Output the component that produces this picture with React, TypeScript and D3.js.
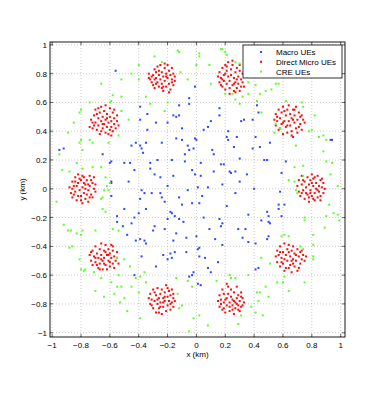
import React from "react";
import * as d3 from "d3";

// positions of the UEs, in units of 0.01 km (10 m)
const macroUEs: [number, number][] = [
  [-56, 82], [-1, 71], [-5, 63], [-5, 59], [-39, 57], [-39, 48], [-12, 58], [-16, 51], [-14, 50], [-12, 51],
  [-20, 46], [-34, 52], [-28, 46], [-34, 41], [-35, 32], [-42, 32], [-39, 30], [-38, 28], [-37, 25], [-45, 30],
  [-14, 35], [-10, 34], [-24, 32], [-6, 30], [-5, 27], [-2, 28], [0, 34], [-1, 35], [5, 41], [8, 43],
  [10, 47], [11, 27], [16, 51], [22, 40], [21, 36], [22, 34], [16, 56], [28, 36], [31, 47], [33, 48],
  [26, 29], [30, 21], [39, 28], [43, 53], [42, 58], [39, 48], [41, 36], [44, 29], [47, 20], [49, 20],
  [51, 32], [62, 19], [59, 11], [58, -2], [93, 34], [94, 34], [-92, 28], [-95, 27], [-65, 24], [-60, 18],
  [-59, 19], [-50, 18], [-46, 18], [-43, 13], [-32, 18], [-32, 14], [-29, 10], [-27, 20], [-16, 9], [-20, 2],
  [-17, 20], [-8, 19], [-3, 13], [-1, 10], [3, 18], [3, 9], [8, 1], [12, 12], [17, 17], [19, 17],
  [23, 12], [24, 11], [18, 3], [30, 5], [27, -3], [-59, 5], [-59, 4], [-59, -5], [-38, -1], [-36, -3],
  [-31, -3], [-25, -3], [-24, -6], [-22, -9], [-39, -7], [-6, -1], [-3, -10], [1, 1], [2, -10], [4, -5],
  [-10, -11], [-17, -17], [-15, -19], [-12, -21], [-9, -23], [-20, -21], [-18, -16], [-35, -14], [-40, -17], [-43, -20],
  [-45, -24], [-55, -19], [-55, -23], [-50, -14], [-51, -26], [-48, -32], [-42, -36], [-39, -35], [-36, -36], [-35, -38],
  [-38, -47], [-29, -26], [-30, -29], [-14, -31], [-16, -36], [-7, -34], [0, -33], [2, -41], [1, -42], [5, -20],
  [13, -35], [16, -21], [18, -24], [17, -26], [18, -39], [-23, -46], [-18, -45], [-15, -44], [-20, -49], [-17, -48],
  [-7, -44], [-28, -54], [2, -47], [6, -48], [8, -55], [10, -58], [15, -51], [-3, -60], [-5, -61], [-2, -58],
  [1, -66], [3, -67], [-43, -60], [29, -28], [32, -34], [34, -28], [36, -37], [41, -38], [49, -35], [50, -33],
  [51, -24], [49, -16], [50, -19], [50, -23], [57, -11], [61, -11], [57, -14], [59, -19], [41, -56], [43, -55],
  [-8, 24], [12, 24], [-22, -28], [9, -28], [35, 10], [40, 0], [-47, 5], [-10, 42], [27, 12], [45, -22],
  [-25, 8], [21, -12], [-12, -6], [36, -18],
];

const directMicroUEs: [number, number][] = [
  // (-0.24, 0.77)
  [-33, 80], [-32, 76], [-31, 74], [-30, 79], [-29, 83], [-29, 70], [-28, 77], [-27, 74], [-27, 85], [-26, 79],
  [-26, 71], [-25, 76], [-24, 81], [-24, 73], [-23, 78], [-23, 68], [-22, 84], [-22, 75], [-21, 80], [-21, 71],
  [-20, 77], [-20, 86], [-19, 82], [-19, 73], [-18, 79], [-18, 69], [-17, 76], [-17, 84], [-16, 80], [-16, 72],
  [-15, 78], [-28, 73], [-31, 78], [-25, 86], [-19, 67], [-23, 71], [-30, 72], [-17, 74], [-21, 78], [-26, 82],
  [-28, 81], [-33, 77], [-15, 75], [-24, 70], [-22, 87], [-29, 76],
  // (0.24, 0.77)
  [15, 78], [16, 74], [16, 81], [17, 77], [18, 84], [18, 71], [19, 79], [19, 75], [20, 86], [20, 69],
  [21, 82], [21, 73], [22, 78], [22, 88], [23, 75], [23, 70], [24, 83], [24, 79], [25, 72], [25, 86],
  [26, 77], [26, 68], [27, 81], [27, 74], [28, 84], [28, 70], [29, 78], [29, 73], [30, 82], [30, 68],
  [31, 76], [31, 71], [32, 80], [32, 74], [33, 78], [18, 76], [20, 80], [23, 66], [26, 73], [28, 76],
  [30, 86], [33, 71], [25, 89], [17, 72], [21, 85], [27, 67],
  // (-0.64, 0.47)
  [-74, 43], [-73, 48], [-72, 42], [-71, 51], [-70, 46], [-70, 55], [-69, 41], [-68, 49], [-68, 44], [-67, 53],
  [-67, 38], [-66, 47], [-66, 57], [-65, 42], [-65, 50], [-64, 45], [-64, 54], [-63, 39], [-63, 48], [-62, 43],
  [-62, 52], [-61, 46], [-61, 38], [-60, 50], [-60, 56], [-59, 43], [-59, 47], [-58, 40], [-58, 53], [-57, 45],
  [-57, 49], [-56, 42], [-55, 47], [-55, 51], [-54, 44], [-72, 46], [-69, 52], [-66, 40], [-63, 58], [-60, 41],
  [-57, 55], [-62, 49], [-65, 45], [-68, 56], [-71, 44], [-59, 37],
  // (0.65, 0.47)
  [54, 48], [55, 44], [55, 52], [56, 47], [57, 55], [57, 41], [58, 49], [59, 45], [59, 53], [60, 38],
  [60, 57], [61, 47], [62, 43], [62, 51], [63, 39], [63, 55], [64, 47], [64, 58], [65, 44], [65, 52],
  [66, 40], [66, 49], [67, 55], [67, 36], [68, 46], [68, 51], [69, 42], [69, 57], [70, 48], [70, 39],
  [71, 53], [72, 45], [72, 50], [73, 41], [74, 48], [75, 46], [58, 42], [61, 54], [63, 44], [66, 37],
  [68, 55], [71, 43], [73, 51], [60, 46], [67, 48], [56, 50],
  // (-0.79, 0)
  [-88, 1], [-87, -3], [-86, 5], [-86, -6], [-85, 2], [-84, 8], [-84, -2], [-83, -8], [-82, 4], [-82, 10],
  [-81, -1], [-80, 6], [-80, -5], [-79, 1], [-79, -10], [-78, 8], [-78, -3], [-77, 3], [-77, -7], [-76, 6],
  [-75, -1], [-75, -9], [-74, 2], [-74, 9], [-73, -4], [-72, 4], [-72, -6], [-71, 0], [-71, 8], [-70, -2],
  [-85, -4], [-83, 2], [-81, 7], [-80, -8], [-78, 4], [-76, -4], [-74, -6], [-73, 6], [-86, 0], [-82, -5],
  [-77, 0], [-84, 5], [-79, 9], [-75, 3], [-70, 3],
  // (0.80, 0)
  [70, 2], [71, -2], [71, 6], [72, -5], [73, 3], [73, 9], [74, -1], [75, 5], [75, -7], [76, 1],
  [77, 8], [77, -4], [78, 3], [78, -9], [79, 6], [79, -1], [80, 10], [80, -5], [81, 2], [81, 7],
  [82, -3], [82, -8], [83, 4], [83, 0], [84, 9], [84, -6], [85, 2], [85, -2], [86, 6], [86, -5],
  [87, 1], [88, -3], [88, 4], [89, 0], [74, 6], [76, -3], [78, -6], [80, 4], [82, 8], [84, -1],
  [86, -8], [87, 7], [79, -3], [73, -3], [81, -7],
  // (-0.64, -0.47)
  [-74, -46], [-73, -50], [-72, -43], [-72, -53], [-71, -47], [-70, -40], [-70, -51], [-69, -45], [-68, -55], [-68, -48],
  [-67, -42], [-67, -52], [-66, -38], [-66, -46], [-65, -50], [-65, -56], [-64, -43], [-64, -48], [-63, -53], [-63, -39],
  [-62, -46], [-62, -56], [-61, -42], [-61, -50], [-60, -54], [-60, -45], [-59, -39], [-59, -48], [-58, -52], [-58, -43],
  [-57, -47], [-57, -55], [-56, -50], [-55, -44], [-55, -48], [-54, -52], [-73, -44], [-70, -48], [-67, -56], [-64, -52],
  [-61, -46], [-58, -40], [-63, -44], [-69, -53], [-66, -49], [-60, -51],
  // (0.65, -0.48)
  [55, -47], [56, -43], [56, -51], [57, -46], [58, -40], [58, -54], [59, -48], [60, -44], [60, -52], [61, -38],
  [61, -57], [62, -46], [63, -42], [63, -50], [64, -55], [64, -39], [65, -47], [65, -53], [66, -43], [66, -58],
  [67, -49], [67, -40], [68, -45], [68, -54], [69, -50], [70, -42], [70, -57], [71, -47], [72, -52], [72, -44],
  [73, -49], [74, -46], [75, -50], [76, -47], [59, -51], [62, -55], [64, -44], [67, -52], [69, -46], [71, -55],
  [73, -43], [61, -49], [66, -50], [58, -44],
  // (-0.24, -0.77)
  [-33, -76], [-32, -80], [-32, -73], [-31, -77], [-30, -70], [-30, -83], [-29, -78], [-28, -74], [-28, -86], [-27, -80],
  [-27, -69], [-26, -76], [-26, -83], [-25, -73], [-25, -79], [-24, -87], [-24, -70], [-23, -76], [-23, -82], [-22, -72],
  [-22, -78], [-21, -85], [-21, -67], [-20, -75], [-20, -81], [-19, -71], [-19, -78], [-18, -84], [-18, -74], [-17, -79],
  [-17, -70], [-16, -76], [-16, -82], [-15, -78], [-29, -72], [-31, -81], [-26, -86], [-23, -79], [-20, -69], [-18, -80],
  [-22, -75], [-27, -77], [-25, -82], [-16, -73],
  // (0.24, -0.77)
  [15, -78], [16, -74], [16, -82], [17, -77], [18, -70], [18, -84], [19, -79], [19, -73], [20, -86], [21, -76],
  [21, -81], [22, -68], [22, -73], [23, -79], [23, -85], [24, -75], [24, -70], [25, -81], [25, -77], [26, -87],
  [26, -72], [27, -79], [27, -83], [28, -76], [28, -68], [29, -81], [29, -74], [30, -85], [30, -78], [31, -72],
  [31, -82], [32, -76], [33, -79], [17, -80], [20, -77], [23, -82], [26, -78], [29, -84], [31, -75], [21, -66],
  [25, -84], [19, -83], [28, -80], [32, -81],
];

const creUEs: [number, number][] = [
  [17, 97], [18, 97], [20, 95], [21, 93], [-13, 96], [-12, 95], [-29, 92], [-24, 88], [-40, 86], [-45, 80],
  [-40, 76], [-52, 76], [-66, 73], [-52, 64], [-58, 65], [-59, 61], [-60, 60], [-74, 60], [-80, 55], [-81, 53],
  [-85, 46], [-89, 39], [-81, 32], [-80, 34], [-74, 34], [-72, 32], [-79, 27], [-61, 32], [-54, 37], [-95, 24],
  [-93, 13], [-88, 12], [-83, 18], [-79, 14], [-72, 15], [-66, 15], [-63, 8], [-60, 4], [-62, 2], [-64, -1],
  [-61, -1], [-65, -6], [-66, -7], [-97, -9], [-92, -25], [-89, -29], [-87, -29], [-83, -31], [-80, -32], [-79, -29],
  [-70, -29], [-65, -14], [-63, -16], [-58, -28], [-54, -29], [-50, -49], [-46, -54], [-55, -48], [-54, -60], [-88, -41],
  [-86, -40], [-81, -49], [-80, -56], [-78, -57], [-77, -56], [-71, -58], [-70, -71], [-64, -75], [-59, -65], [-55, -68],
  [-52, -68], [-53, -79], [-50, -76], [-48, -85], [-45, -68], [-42, -62], [-39, -61], [-40, -72], [-36, -58], [-39, -90],
  [-6, -64], [-3, -68], [-13, -73], [-10, -81], [-12, -83], [-2, -90], [2, -88], [-5, -99], [8, -95], [23, -60],
  [24, -62], [27, -62], [31, -88], [29, -94], [42, -72], [44, -72], [43, -78], [41, -86], [46, -88], [48, -68],
  [45, -48], [51, -52], [56, -65], [60, -65], [61, -61], [64, -71], [59, -33], [61, -32], [64, -33], [72, -40],
  [74, -42], [81, -39], [81, -47], [81, -49], [81, -32], [75, -65], [90, -19], [95, -17], [98, -18], [99, -22],
  [92, -11], [89, -27], [75, -20], [75, -22], [68, 5], [69, -1], [70, -3], [74, 9], [64, 6], [68, 15],
  [74, 16], [90, 19], [94, 18], [93, 10], [98, 2], [85, 36], [88, 37], [90, 34], [88, 26], [78, 40],
  [80, 41], [69, 30], [58, 42], [55, 45], [54, 39], [82, 51], [73, 60], [74, 57], [62, 61], [45, 53],
  [52, 69], [48, 68], [44, 66], [42, 61], [55, 73], [57, 73], [41, 72], [36, 66], [32, 64], [27, 62],
  [30, 59], [25, 66], [20, 66], [36, 74], [30, 87], [27, 88], [9, 86], [10, 73], [0, 86], [2, 92],
  [2, 94], [-6, 76], [-11, 81], [-20, 60], [-22, 54], [-32, 59], [-35, 64], [-52, 54], [-47, 48], [-66, -62],
  [-57, -73], [-35, -65], [-14, -62], [14, -64], [36, -60], [50, -75], [38, -82],
];

const UNIT = 0.01; // km per data unit
const ticks = [-1, -0.8, -0.6, -0.4, -0.2, 0, 0.2, 0.4, 0.6, 0.8, 1];

const series = [
  { name: "Macro UEs", color: "#2a48ff", data: macroUEs },
  { name: "Direct Micro UEs", color: "#ff0a0a", data: directMicroUEs },
  { name: "CRE UEs", color: "#5cff2a", data: creUEs },
];

const W = 381, H = 393;
const left = 50, right = 345, top = 42, bottom = 337;

// MATLAB style labels: 0, 0.2, −0.4 (true minus sign)
const fmt = (v: number) => {
  if (Math.abs(v) < 1e-9) return "0";
  const s = String(+Math.abs(v).toFixed(1));
  return v < 0 ? "\u2212" + s : s;
};

export default function App() {
  const x = d3.scaleLinear().domain([-1.015, 1.03]).range([left, right]);
  const y = d3.scaleLinear().domain([-1.03, 1.02]).range([bottom, top]);
  const font = "'Liberation Sans', Arial, Helvetica, sans-serif";
  const tk = 3;
  const ms = 2;

  return (
    <svg width={W} height={H} style={{ position: "absolute", left: 0, top: 0, background: "#fff" }}
      fontFamily={font}>
      <rect x={0} y={0} width={W} height={H} fill="#fff" />
      {/* grid */}
      {ticks.map((t) => (
        <g key={"g" + t} stroke="#a8a8a8" strokeWidth={0.6} strokeDasharray="1,2">
          <line x1={x(t)} x2={x(t)} y1={top} y2={bottom} />
          <line x1={left} x2={right} y1={y(t)} y2={y(t)} />
        </g>
      ))}
      {/* points */}
      {series.map((s) => (
        <g key={s.name} fill={s.color}>
          {s.data.map(([px, py], i) => (
            <rect key={i} x={x(px * UNIT) - ms / 2} y={y(py * UNIT) - ms / 2} width={ms} height={ms} />
          ))}
        </g>
      ))}
      {/* ticks */}
      {ticks.map((t) => (
        <g key={"t" + t} stroke="#000" strokeWidth={0.6}>
          <line x1={x(t)} x2={x(t)} y1={bottom} y2={bottom - tk} />
          <line x1={x(t)} x2={x(t)} y1={top} y2={top + tk} />
          <line x1={left} x2={left + tk} y1={y(t)} y2={y(t)} />
          <line x1={right} x2={right - tk} y1={y(t)} y2={y(t)} />
        </g>
      ))}
      <rect x={left} y={top} width={right - left} height={bottom - top} fill="none" stroke="#000" strokeWidth={0.9} />
      {/* tick labels */}
      {ticks.map((t) => (
        <text key={"xl" + t} x={x(t)} y={bottom + 11} fontSize={8} textAnchor="middle">{fmt(t)}</text>
      ))}
      {ticks.map((t) => (
        <text key={"yl" + t} x={left - 3} y={y(t) + 3} fontSize={8} textAnchor="end">{fmt(t)}</text>
      ))}
      <text x={(left + right) / 2} y={bottom + 20} fontSize={8} textAnchor="middle">x (km)</text>
      <text transform={`translate(25,${(top + bottom) / 2}) rotate(-90)`} fontSize={8} textAnchor="middle">y (km)</text>
      {/* legend */}
      <g>
        <rect x={243} y={45} width={99} height={33} fill="#fff" stroke="#000" strokeWidth={0.8} />
        {series.map((s, i) => (
          <g key={"lg" + s.name}>
            <rect x={261 - ms / 2} y={52 + i * 9.8 - ms / 2} width={ms} height={ms} fill={s.color} />
            <text x={276} y={52 + i * 9.8 + 3} fontSize={8}>{s.name}</text>
          </g>
        ))}
      </g>
    </svg>
  );
}
